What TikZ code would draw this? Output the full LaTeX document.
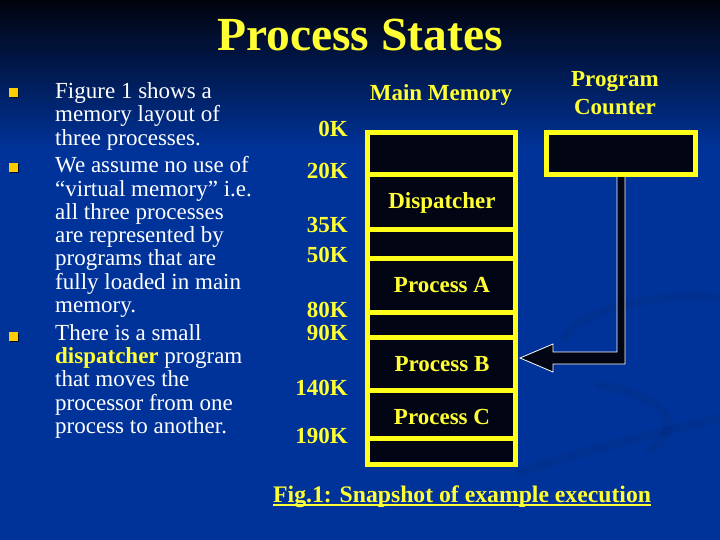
\documentclass[tikz,border=0pt]{standalone}
\usepackage{fontspec}
\setmainfont{Liberation Serif}
\usetikzlibrary{calc}
\definecolor{bgtop}{HTML}{01030D}
\definecolor{bgblue}{HTML}{00339A}
\definecolor{yel}{HTML}{FFFF33}
\definecolor{memyel}{HTML}{FFFF1A}
\definecolor{cellblack}{HTML}{020614}
\definecolor{bulletgold}{HTML}{FFCC00}
\tikzset{
  body/.style={text=white, font=\fontsize{23bp}{23bp}\selectfont, anchor=base west, inner sep=0},
  addr/.style={text=yel, font=\bfseries\fontsize{23bp}{27bp}\selectfont, anchor=base east, inner sep=0},
  lab/.style={text=yel, font=\bfseries\fontsize{23bp}{27bp}\selectfont, anchor=base, inner sep=0},
  cell/.style={draw=memyel, line width=5bp, fill=cellblack, minimum width=148bp, inner sep=0, rectangle},
  bulletsq/.style={fill=bulletgold, minimum size=9bp, inner sep=0, rectangle},
  bulletsh/.style={fill=black!70!bgblue, minimum size=9bp, inner sep=0, rectangle},
  arrowshape/.style={fill=cellblack, draw=white, line width=0.8bp, line join=miter},
  swoosh/.style={draw=black, opacity=0.06, line width=9bp, line cap=round}
}
\begin{document}
\begin{tikzpicture}[x=1bp, y=-1bp]
\useasboundingbox (0,0) rectangle (720,540);
% background
\fill[bgblue] (0,0) rectangle (720,540);
\shade[top color=bgtop, bottom color=bgblue] (0,0) rectangle (720,150);
% faint swooshes
\draw[swoosh] (565,338) .. controls (585,305) and (670,292) .. (720,298);
\draw[swoosh] (600,385) .. controls (660,395) and (690,425) .. (650,450);
\draw[swoosh] (520,472) .. controls (600,445) and (680,428) .. (720,418);
% title
\node[text=yel, font=\bfseries\fontsize{47.5bp}{50bp}\selectfont, anchor=base, inner sep=0] (title) at (360,51) {Process States};
% bullets
\foreach \y/\n in {93/b1, 168/b2, 336/b3} {
  \node[bulletsh] (\n s) at (14,\y+1) {};
  \node[bulletsq] (\n) at (13,\y) {};
}
% body text
\node[body] (t1) at (55,99) {Figure 1 shows a};
\node[body] (t2) at (55,122) {memory layout of};
\node[body] (t3) at (55,145.5) {three processes.};
\node[body] (t4) at (55,173) {We assume no use of};
\node[body] (t5) at (55,196.3) {“virtual memory” i.e.};
\node[body] (t6) at (55,219.5) {all three processes};
\node[body] (t7) at (55,242.7) {are represented by};
\node[body] (t8) at (55,266) {programs that are};
\node[body] (t9) at (55,289) {fully loaded in main};
\node[body] (t10) at (55,312) {memory.};
\node[body] (t11) at (55,340) {There is a small};
\node[body] (t12) at (55,363) {{\bfseries\color{yel}dispatcher} program};
\node[body] (t13) at (55,386.5) {that moves the};
\node[body] (t14) at (55,410) {processor from one};
\node[body] (t15) at (55,433) {process to another.};
% headings
\node[lab] (mm) at (441,101) {Main Memory};
\node[lab] (pc1) at (615,87) {Program};
\node[lab] (pc2) at (615,115) {Counter};
% address labels
\node[addr] (a0) at (348,137) {0K};
\node[addr] (a20) at (348,178.5) {20K};
\node[addr] (a35) at (348,233) {35K};
\node[addr] (a50) at (348,263) {50K};
\node[addr] (a80) at (348,317) {80K};
\node[addr] (a90) at (348,340.5) {90K};
\node[addr] (a140) at (348,395) {140K};
\node[addr] (a190) at (348,443) {190K};
% arrow (drawn before the counter box)
\coordinate (tip) at (520,358);
\draw[arrowshape] (tip) -- ++(33,-14) -- ++(0,8) -- ++(64,0) -- ++(0,-182) -- ++(8,0)
  -- ++(0,194) -- ++(-72,0) -- ++(0,8) -- cycle;
% program counter box
\node[cell, minimum width=149bp, minimum height=42bp] (pc) at (621,153.5) {};
% memory cells
\node[cell, minimum height=42bp] (c0) at (441.5,153.5) {};
\node[cell, minimum height=55bp] (cD) at (441.5,202) {};
\node[cell, minimum height=29bp] (c35) at (441.5,244) {};
\node[cell, minimum height=54bp] (cA) at (441.5,285.5) {};
\node[cell, minimum height=25bp] (c80) at (441.5,325) {};
\node[cell, minimum height=53bp] (cB) at (441.5,364) {};
\node[cell, minimum height=48bp] (cC) at (441.5,414.5) {};
\node[cell, minimum height=26bp] (c190) at (441.5,451.5) {};
% cell labels
\node[lab] (lD) at (442,209) {Dispatcher};
\node[lab] (lA) at (442,292.7) {Process A};
\node[lab] (lB) at (442,371) {Process B};
\node[lab] (lC) at (442,424) {Process C};
% caption
\node[text=yel, font=\bfseries\fontsize{23.7bp}{27bp}\selectfont, anchor=base west, inner sep=0] (cap) at (273,502) {Fig.1: Snapshot of example execution};
\draw[yel, line width=1.3bp] ($(cap.base west)+(0,3)$) -- ($(cap.base east)+(0,3)$);
\end{tikzpicture}
\end{document}
